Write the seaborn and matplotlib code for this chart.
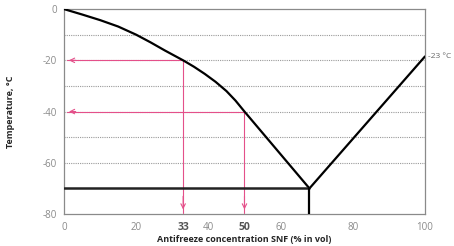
import matplotlib
matplotlib.use("Agg")
import matplotlib.pyplot as plt
import seaborn as sns
import pandas as pd

# Data
liquidus_conc = [0, 5, 10, 15, 20, 24, 28, 33, 36, 39, 42, 45, 47.5, 50, 53, 56, 59, 62, 65, 68]
liquidus_temp = [0, -2.1, -4.3, -6.8, -10, -13, -16.2, -20, -22.5, -25.3, -28.4, -32, -35.7, -40, -45, -50, -55, -60, -65, -70]
right_conc = [68, 100]
right_temp = [-70, -18.5]
eutectic_temp = -70
eutectic_conc = 68
marked_conc = [33, 50]
marked_temp = [-20, -40]
grid_temps = [-10, -20, -30, -40, -50, -60]
xticks = [0, 20, 40, 60, 80, 100]
yticks = [0, -20, -40, -60, -80]
end_label = "-23 °C"

sns.set_theme(style="white")
plt.rcParams['font.family'] = ['Open Sans', 'DejaVu Sans']

fig = plt.figure(figsize=(4.54, 2.46), dpi=100)
ax = fig.add_axes([0.141, 0.130, 0.795, 0.833])

for t in grid_temps:
    ax.axhline(t, color="#9a9a9a", lw=0.8, ls=(0, (1, 1)), zorder=0.5)

pink = "#e4508a"
for c, t in zip(marked_conc, marked_temp):
    ax.plot([0.8, c], [t, t], color=pink, lw=0.8, zorder=2)
    ax.plot([c, c], [t, -79.5], color=pink, lw=0.8, zorder=2)
    ax.annotate("", xy=(0.6, t), xytext=(4, t),
                arrowprops=dict(arrowstyle="->", color=pink, lw=0.8, mutation_scale=8), zorder=2)
    ax.annotate("", xy=(c, -79.3), xytext=(c, -72),
                arrowprops=dict(arrowstyle="->", color=pink, lw=0.8, mutation_scale=8), zorder=2)

df1 = pd.DataFrame({"c": liquidus_conc, "t": liquidus_temp})
df2 = pd.DataFrame({"c": right_conc, "t": right_temp})
sns.lineplot(data=df1, x="c", y="t", ax=ax, color="black", lw=1.6, sort=False, zorder=3)
sns.lineplot(data=df2, x="c", y="t", ax=ax, color="black", lw=1.6, sort=False, zorder=3)
ax.plot([0, eutectic_conc], [eutectic_temp, eutectic_temp], color="#222222", lw=1.8, zorder=3)
ax.plot([eutectic_conc, eutectic_conc], [eutectic_temp, -80], color="black", lw=1.6, zorder=3)

ax.set_xlim(0, 100)
ax.set_ylim(-80, 0)
ax.set_xticks(xticks + marked_conc)
ax.set_xticklabels([str(v) for v in xticks] + [str(v) for v in marked_conc])
for lab in ax.get_xticklabels():
    if lab.get_text() in [str(v) for v in marked_conc]:
        lab.set_fontweight("bold")
        lab.set_color("#555555")
        lab.set_fontsize(7.5)
    else:
        lab.set_color("#8a8a8a")
        lab.set_fontsize(7)
ax.set_yticks(yticks)
ax.set_yticklabels([str(v) for v in yticks], color="#8a8a8a", fontsize=7)
ax.tick_params(axis="x", length=0, pad=6)
ax.tick_params(axis="y", length=0, pad=5)

ax.text(100.8, right_temp[-1], end_label, fontsize=6, color="#666666", va="center", ha="left")

ax.set_xlabel("Antifreeze concentration SNF (% in vol)", fontsize=6.5, fontweight="bold", labelpad=1)
ax.set_ylabel("Temperature, °C", fontsize=6.5, fontweight="bold", labelpad=20)

for s in ax.spines.values():
    s.set_color("#8a8a8a")
    s.set_linewidth(0.9)

fig.savefig("out.png", dpi=100)
